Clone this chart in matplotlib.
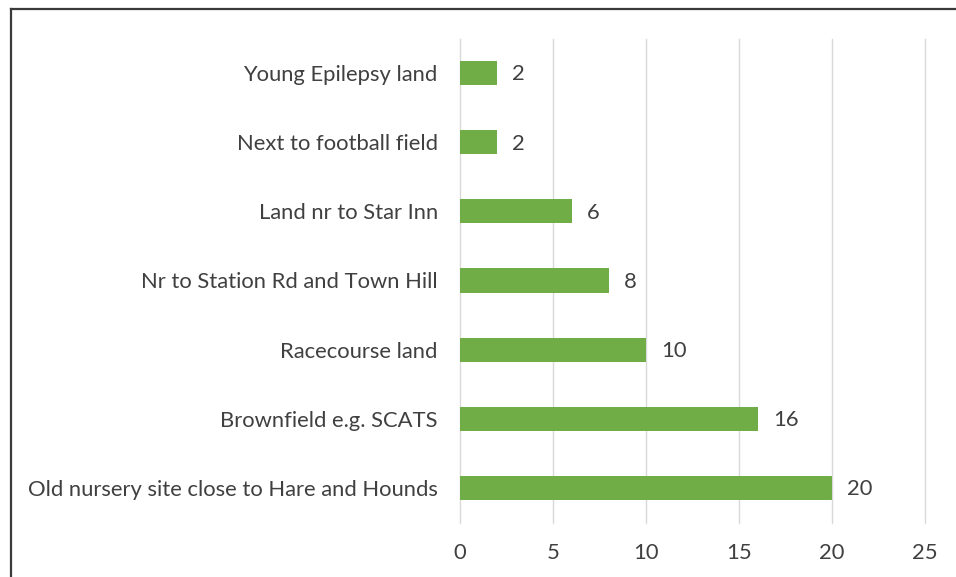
import matplotlib.pyplot as plt
from matplotlib.lines import Line2D

sites = [
    "Old nursery site close to Hare and Hounds",
    "Brownfield e.g. SCATS",
    "Racecourse land",
    "Nr to Station Rd and Town Hill",
    "Land nr to Star Inn",
    "Next to football field",
    "Young Epilepsy land",
]
votes = [20, 16, 10, 8, 6, 2, 2]
x_ticks = [0, 5, 10, 15, 20, 25]

BAR_COLOR = "#70AD47"
TEXT_COLOR = "#404040"
GRID_COLOR = "#D9D9D9"

plt.rcParams["font.family"] = ["Lato", "DejaVu Sans"]

fig = plt.figure(figsize=(9.56, 5.77), dpi=100)
ax = fig.add_axes([460 / 956, 1 - 522.5 / 577, 465 / 956, 484 / 577])

pos = range(len(sites))
ax.barh(pos, votes, height=0.35, color=BAR_COLOR, zorder=2)

for y, v in zip(pos, votes):
    ax.annotate(str(v), (v, y), xytext=(11, -1), textcoords="offset points",
                ha="left", va="center", fontsize=15.8, color=TEXT_COLOR)

ax.set_xlim(0, 25)
ax.set_ylim(-0.5, len(sites) - 0.5)
ax.set_xticks(x_ticks)
ax.set_yticks(list(pos))
ax.set_yticklabels(sites)
ax.grid(axis="x", color=GRID_COLOR, linewidth=1, zorder=0)
for gl in ax.get_xgridlines():
    gl.set_clip_on(False)
for s in ax.spines.values():
    s.set_visible(False)
ax.tick_params(axis="both", length=0, labelsize=15.8, colors=TEXT_COLOR)
ax.tick_params(axis="y", pad=16)
ax.tick_params(axis="x", pad=15)

# outer frame, only left and top edges fall inside the canvas
fig.add_artist(Line2D([11 / 956, 11 / 956], [0, 1 - 9 / 577], color="#3a3a3a", linewidth=1.6))
fig.add_artist(Line2D([11 / 956, 1], [1 - 9 / 577, 1 - 9 / 577], color="#3a3a3a", linewidth=1.6))

fig.savefig("out.png", dpi=100)
